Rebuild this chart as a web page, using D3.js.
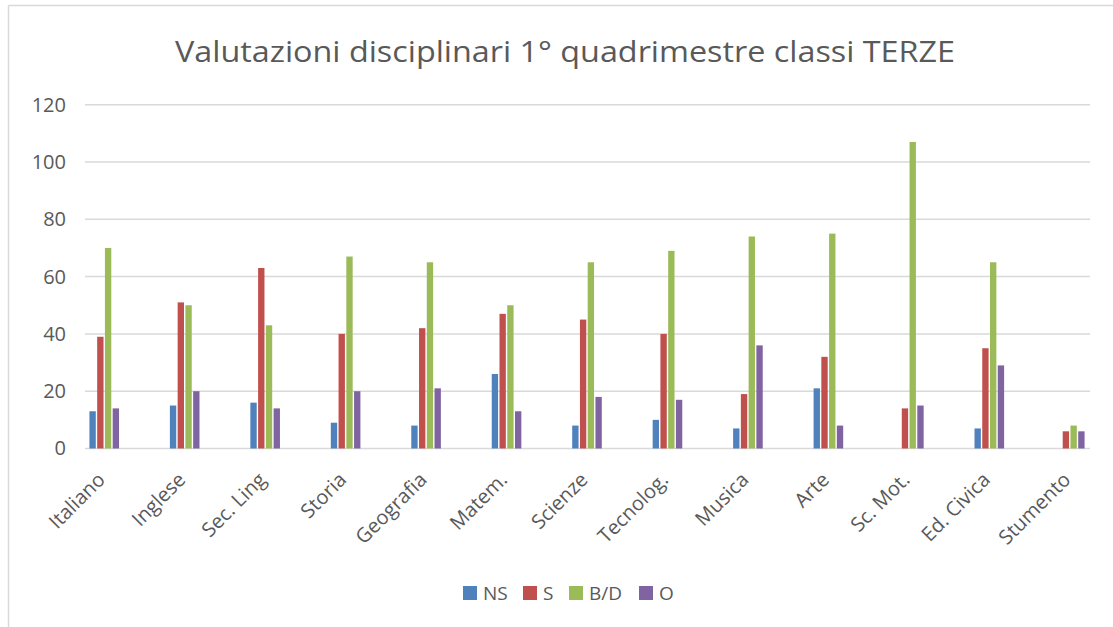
<!DOCTYPE html>
<html>
<head>
<meta charset="utf-8">
<script src="https://cdn.jsdelivr.net/npm/d3@7"></script>
<style>
  body { margin: 0; background: #fff; }
  svg text { font-family: "Open Sans", "Noto Sans", sans-serif; fill: #595959; }
</style>
</head>
<body>
<svg id="chart" width="1113" height="627"></svg>
<script>
// categories and series values
const subjects = ['Italiano', 'Inglese', 'Sec. Ling', 'Storia', 'Geografia', 'Matem.', 'Scienze',
  'Tecnolog.', 'Musica', 'Arte', 'Sc. Mot.', 'Ed. Civica', 'Stumento'];
const seriesNames = ['NS', 'S', 'B/D', 'O'];
const ns  = [13, 15, 16, 9, 8, 26, 8, 10, 7, 21, 0, 7, 0];
const s   = [39, 51, 63, 40, 42, 47, 45, 40, 19, 32, 14, 35, 6];
const bd  = [70, 50, 43, 67, 65, 50, 65, 69, 74, 75, 107, 65, 8];
const o   = [14, 20, 14, 20, 21, 13, 18, 17, 36, 8, 15, 29, 6];
const yTicks = [0, 20, 40, 60, 80, 100, 120];
const colors = ['#4F81BD', '#C0504D', '#9BBB59', '#8064A2'];

const values = [ns, s, bd, o];
const svg = d3.select('#chart');

// chart frame (only top and left edges visible)
svg.append('line').attr('x1', 8.5).attr('x2', 1113).attr('y1', 5.5).attr('y2', 5.5)
  .attr('stroke', '#d9d9d9').attr('stroke-width', 1.5);
svg.append('line').attr('x1', 8.5).attr('x2', 8.5).attr('y1', 5.5).attr('y2', 627)
  .attr('stroke', '#d9d9d9').attr('stroke-width', 1.5);

// title
svg.append('text')
  .attr('x', 565).attr('y', 62)
  .attr('text-anchor', 'middle')
  .attr('font-size', 30)
  .attr('textLength', 780).attr('lengthAdjust', 'spacingAndGlyphs')
  .text('Valutazioni disciplinari 1° quadrimestre classi TERZE');

const gridLeft = 85, gridRight = 1090;
const x = d3.scaleBand().domain(subjects).range([64, 1110]);
const x1 = d3.scaleBand().domain(seriesNames).range([-14.8, 14.8]).paddingInner(0.18);
const y = d3.scaleLinear().domain([0, 120]).range([448.5, 104.7]);

// gridlines
svg.append('g').selectAll('line').data(yTicks).join('line')
  .attr('x1', gridLeft).attr('x2', gridRight)
  .attr('y1', d => y(d)).attr('y2', d => y(d))
  .attr('stroke', '#d9d9d9').attr('stroke-width', 1.5);

// y axis labels
const yAxis = svg.append('g').attr('transform', 'translate(66,0)')
  .call(d3.axisLeft(y).tickValues(yTicks).tickSize(0).tickPadding(0));
yAxis.select('.domain').remove();
yAxis.selectAll('text').attr('font-size', 20).attr('fill', '#595959')
  .style('font-family', '"Open Sans", sans-serif');

// bars
const groups = svg.append('g').selectAll('g').data(subjects).join('g')
  .attr('transform', d => `translate(${x(d) + x.bandwidth() / 2},0)`);
groups.selectAll('rect')
  .data((d, i) => seriesNames.map((k, j) => ({ key: k, value: values[j][i], c: colors[j] })))
  .join('rect')
  .attr('x', d => x1(d.key))
  .attr('width', x1.bandwidth())
  .attr('y', d => y(d.value))
  .attr('height', d => y(0) - y(d.value))
  .attr('fill', d => d.c);

// x labels rotated
svg.append('g').selectAll('text').data(subjects).join('text')
  .attr('transform', d => `translate(${x(d) + x.bandwidth() / 2 + 2},${481}) rotate(-45)`)
  .attr('text-anchor', 'end')
  .attr('font-size', 20)
  .text(d => d);

// legend
const legendX = [463, 523, 569, 639];
const legend = svg.append('g').selectAll('g').data(seriesNames).join('g')
  .attr('transform', (d, i) => `translate(${legendX[i]},586)`);
legend.append('rect').attr('width', 14).attr('height', 14).attr('fill', (d, i) => colors[i]);
legend.append('text').attr('x', 20).attr('y', 14).attr('font-size', 19).text(d => d);
</script>
</body>
</html>
